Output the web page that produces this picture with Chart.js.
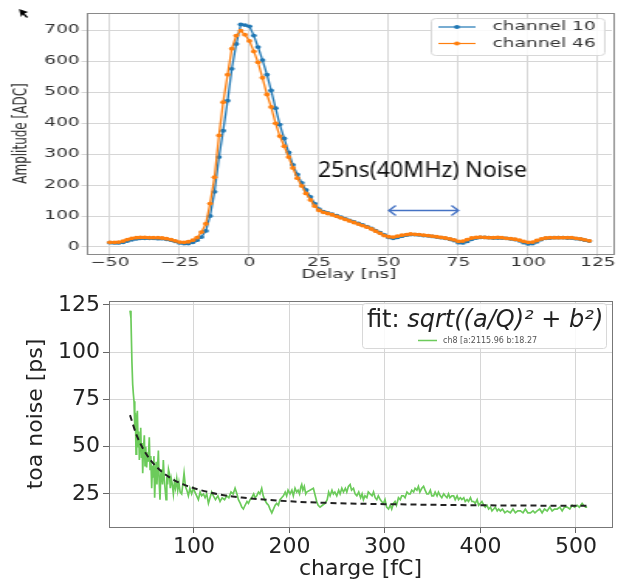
<!DOCTYPE html>
<html>
<head>
<meta charset="utf-8">
<script src="https://cdn.jsdelivr.net/npm/chart.js@4.4.1/dist/chart.umd.min.js"></script>
<style>
  html, body { margin: 0; padding: 0; background: #fff; }
  #top { position: absolute; left: 0; top: 0; width: 399px; height: 290px; transform: scaleX(1.5489); transform-origin: 0 0; }
  #bottom { position: absolute; left: 0; top: 290px; width: 618px; height: 293px; }
</style>
</head>
<body>
<div id="top"><canvas id="pulse-chart" width="399" height="290"></canvas></div>
<div id="bottom"><canvas id="noise-chart" width="618" height="293"></canvas></div>
<script>
// top panel: pulse shape
const delay = [
    -50.0, -48.4, -46.9, -45.3, -43.8, -42.2, -40.6, -39.1, -37.5, -35.9,
    -34.4, -32.8, -31.3, -29.7, -28.1, -26.6, -25.0, -23.4, -21.9, -20.3,
    -18.8, -17.2, -15.6, -14.1, -12.5, -10.9, -9.4, -7.8, -6.3, -4.7,
    -3.1, -1.6, 0.0, 1.6, 3.1, 4.7, 6.3, 7.8, 9.4, 10.9,
    12.5, 14.1, 15.6, 17.2, 18.8, 20.3, 21.9, 23.4, 25.0, 26.6,
    28.1, 29.7, 31.3, 32.8, 34.4, 35.9, 37.5, 39.1, 40.6, 42.2,
    43.8, 45.3, 46.9, 48.4, 50.0, 51.6, 53.1, 54.7, 56.3, 57.8,
    59.4, 60.9, 62.5, 64.1, 65.6, 67.2, 68.8, 70.3, 71.9, 73.4,
    75.0, 76.6, 78.1, 79.7, 81.3, 82.8, 84.4, 85.9, 87.5, 89.1,
    90.6, 92.2, 93.8, 95.3, 96.9, 98.4, 100.0, 101.6, 103.1, 104.7,
    106.3, 107.8, 109.4, 110.9, 112.5, 114.1, 115.6, 117.2, 118.8, 120.3,
    121.9
];
const ch10 = [
    14, 13, 13, 15, 19, 23, 26, 28, 28, 28,
    28, 27, 27, 25, 22, 18, 13, 11, 11, 15,
    22, 32, 52, 100, 178, 290, 375, 472, 575, 655,
    718, 716, 712, 682, 645, 603, 556, 505, 448, 395,
    350, 305, 265, 234, 207, 184, 162, 140, 122, 114,
    110, 106, 101, 96, 91, 86, 81, 76, 71, 66,
    60, 53, 46, 39, 31, 28, 31, 35, 38, 40,
    40, 39, 37, 36, 34, 32, 30, 28, 25, 21,
    14, 13, 18, 25, 29, 31, 31, 30, 29, 29,
    29, 28, 26, 24, 20, 14, 10, 11, 17, 24,
    28, 29, 30, 30, 30, 29, 29, 27, 25, 22,
    19
];
const ch46 = [
    15, 15, 16, 19, 24, 28, 30, 31, 31, 30,
    30, 30, 29, 27, 24, 20, 16, 15, 17, 22,
    30, 48, 75, 140, 225, 360, 467, 556, 640, 682,
    698, 685, 665, 631, 596, 546, 492, 452, 399, 358,
    325, 290, 255, 222, 197, 173, 152, 132, 118, 112,
    108, 104, 99, 94, 89, 84, 79, 74, 69, 64,
    58, 51, 44, 37, 33, 32, 35, 38, 40, 42,
    41, 40, 38, 37, 35, 33, 31, 29, 26, 23,
    18, 19, 24, 29, 31, 32, 31, 30, 30, 31,
    30, 28, 27, 25, 22, 18, 15, 16, 21, 26,
    29, 30, 30, 30, 30, 30, 30, 28, 26, 23,
    20
];
const delayTicks = [-50, -25, 0, 25, 50, 75, 100, 125];
const ampTicks = [0, 100, 200, 300, 400, 500, 600, 700];
const noteText = '25ns(40MHz) Noise';
const noteAt = [24.6, 226];
const arrowSpan = [50, 75, 119];

// bottom panel: toa noise vs charge
const charge = [
    33, 34, 35, 35.8, 36.5, 37.2, 38, 38.6, 39.3, 40,
    40.7, 41.5, 42.2, 42.8, 43.5, 44.2, 45, 45.7, 46.3, 47,
    48, 48.7, 49.5, 50.4, 51.2, 52, 53.2, 54, 54.8, 55.7,
    56.5, 57.3, 58, 58.8, 59.6, 60.4, 61.2, 62, 62.7, 63.5,
    64.4, 65.2, 66, 67, 67.9, 68.8, 69.7, 70.7, 71.5, 72.4,
    73.3, 74.2, 75.2, 76.2, 77.3, 78.4, 79.5, 80.6, 81.9, 83,
    84.2, 85.5, 87.1, 88.3, 89.6, 91, 92.5, 94.1, 95.7, 97.5,
    99.3, 101, 102.8, 104.6, 106.4, 108, 109.9, 111.6, 113.3, 115.1,
    116.8, 118.5, 120.3, 122.5, 125, 127.3, 129.5, 132, 134.3, 136.5,
    138.8, 141, 143, 145, 146.5, 148.5, 150, 151.7, 153.5, 155.5,
    157, 158.7, 160.5, 162.5, 164, 165.7, 167.5, 169, 170.9, 172.5,
    174, 176.2, 178, 179.6, 181.5, 183.2, 185, 186.6, 188.4, 190,
    191.8, 193.6, 195.5, 197, 198.5, 200.6, 202.5, 204, 205.8, 207.5,
    209, 210.5, 212, 212.8, 214, 215.5, 217, 218, 225, 228.5,
    230, 232, 234.5, 237.2, 239.5, 241, 242.5, 244.5, 246, 247.5,
    249.5, 251.5, 253, 254.8, 256.5, 258.5, 260, 261.7, 263.5, 265,
    267, 268.7, 270.5, 272.5, 274.5, 276, 277.4, 279, 281, 282.5,
    284.4, 286.5, 288, 289.7, 291.4, 293, 295, 296.5, 298.4, 300,
    301.7, 303.7, 305.5, 307, 308.9, 310.5, 312, 314.1, 316, 317.5,
    319.4, 321, 323, 324.8, 326.4, 328, 330, 331.5, 333.4, 335,
    336.5, 338.5, 340.4, 342, 343.8, 345.6, 347.5, 349, 350.9, 352.5,
    354.5, 356, 357.9, 359.5, 361.5, 363, 364.9, 366.5, 368, 370,
    371.9, 373.5, 375.5, 377, 378.9, 380.5, 382.5, 384, 385.9, 387.5,
    389.5, 391, 392.8, 394.5, 396.5, 398, 399.8, 401.5, 403.5, 405,
    406.8, 408.5, 410.5, 412, 413.8, 415.5, 417.5, 419, 420.8, 423,
    425.5, 428, 431.3, 434, 436.5, 439, 441.8, 444.5, 447, 449.5,
    452.3, 455, 457, 459.3, 462, 464.5, 467, 469.8, 472.5, 475,
    477.5, 480.3, 483, 485.5, 488, 490.7, 493.5, 496, 498.5, 501.2,
    503.5, 506.4, 508, 510, 511.7
];
const toaNoise = [
    122, 118, 95, 83, 78, 74, 60, 68, 46, 62,
    69, 50, 58, 43, 55, 60, 44, 52, 36, 48,
    56, 40, 50, 39, 47, 42, 55, 38, 45, 28,
    40, 34, 45, 23, 35, 42, 30, 40, 48, 32,
    22, 35, 38, 30, 43, 33, 28, 22, 34, 30,
    38, 36, 28, 33, 30, 25, 31, 28, 33, 27,
    31, 26, 25, 30, 36, 29, 27, 24, 28, 25,
    28, 26, 24, 22, 26, 24, 25, 23, 25, 20,
    23, 26, 24, 22, 24, 21, 23, 22, 24, 23,
    26, 25, 28, 25, 22, 20, 18, 17, 19, 21,
    20, 22, 23, 25, 23, 24, 26, 25, 28, 24,
    22, 20, 19, 17, 15, 17, 19, 20, 19, 22,
    23, 24, 26, 24, 27, 25, 27, 24, 28, 26,
    27, 25, 29, 30, 27, 29, 25, 26, 28, 21,
    19, 18, 19, 20, 22, 26, 24, 27, 25, 26,
    24, 27, 25, 28, 26, 28, 26, 29, 30, 27,
    28, 25, 24, 26, 23, 25, 22, 24, 23, 26,
    25, 24, 26, 23, 22, 24, 22, 21, 20, 22,
    18, 17, 19, 17, 20, 21, 19, 23, 22, 24,
    24, 23, 26, 25, 25, 27, 26, 28, 27, 29,
    26, 28, 29, 27, 25, 25, 27, 24, 24, 26,
    24, 26, 24, 23, 25, 24, 23, 25, 23, 24,
    24, 22, 24, 22, 23, 22, 23, 21, 22, 21,
    23, 21, 21, 20, 22, 19, 20, 21, 19, 18,
    19, 17, 18, 16, 17, 18, 16, 17, 16, 17,
    15, 16, 15, 17, 15, 16, 16, 15, 17, 15,
    15, 16, 15, 16, 17, 15, 17, 16, 18, 16,
    17, 17, 18, 16, 18, 18, 17, 19, 18, 19,
    18, 20, 19, 18, 18
];
const fitCharge = [33, 40, 50, 60, 70, 80, 90, 100, 125, 150, 200, 250, 300, 400, 512];
const fitNoise = [66.7, 56.0, 46.1, 39.7, 35.3, 32.1, 29.8, 28.0, 24.9, 23.1, 21.1, 20.1, 19.6, 19.0, 18.7];
const chargeTicks = [100, 200, 300, 400, 500];
const noiseTicks = [25, 50, 75, 100, 125];
const fitTitle = ['fit: ', 'sqrt((a/Q)\u00b2 + b\u00b2)'];
const fitLabel = 'ch8 [a:2115.96 b:18.27';

const STRETCH = 618 / 399; // the top picture is stretched sideways
const GRID = '#d6d6d6';

const xy = (xs, ys) => xs.map((x, i) => ({ x, y: ys[i] }));
const minus = v => String(v).replace('-', '\u2212');

function frame(color) {
    return {
        id: 'frame',
        afterDatasetsDraw(chart) {
            const { ctx, chartArea: a } = chart;
            ctx.save();
            ctx.strokeStyle = color;
            ctx.lineWidth = 1;
            ctx.strokeRect(Math.round(a.left) + 0.5, Math.round(a.top) + 0.5,
                Math.round(a.right - a.left), Math.round(a.bottom - a.top));
            ctx.restore();
        }
    };
}

function roundBox(ctx, x, y, w, h, r) {
    ctx.beginPath();
    ctx.moveTo(x + r, y);
    ctx.arcTo(x + w, y, x + w, y + h, r);
    ctx.arcTo(x + w, y + h, x, y + h, r);
    ctx.arcTo(x, y + h, x, y, r);
    ctx.arcTo(x, y, x + w, y, r);
    ctx.closePath();
}

// legend, text and arrow for the pulse panel
const pulseExtras = {
    id: 'pulseExtras',
    afterDraw(chart) {
        const { ctx, scales: { x, y } } = chart;
        ctx.save();

        // legend box
        roundBox(ctx, 278.5, 18.5, 112, 37, 3);
        ctx.fillStyle = 'rgba(255,255,255,0.85)';
        ctx.fill();
        ctx.strokeStyle = '#d8d8d8';
        ctx.lineWidth = 1;
        ctx.stroke();
        [0, 1].forEach(i => {
            const ds = chart.data.datasets[i];
            const ly = 27 + i * 16.5;
            ctx.strokeStyle = ds.borderColor;
            ctx.lineWidth = 1.2;
            ctx.beginPath();
            ctx.moveTo(283, ly);
            ctx.lineTo(307, ly);
            ctx.stroke();
            ctx.fillStyle = ds.borderColor;
            ctx.beginPath();
            ctx.arc(295, ly, 1.9, 0, Math.PI * 2);
            ctx.fill();
            ctx.fillStyle = '#333';
            ctx.font = '12px "DejaVu Sans"';
            ctx.textBaseline = 'middle';
            ctx.fillText(ds.label, 318, ly);
        });

        // double arrow
        const x0 = x.getPixelForValue(arrowSpan[0]);
        const x1 = x.getPixelForValue(arrowSpan[1]);
        const ya = Math.round(y.getPixelForValue(arrowSpan[2])) + 0.5;
        const hx = 7 / STRETCH;
        ctx.strokeStyle = '#4472c4';
        ctx.lineWidth = 1.3;
        ctx.beginPath();
        ctx.moveTo(x0, ya); ctx.lineTo(x1, ya);
        ctx.moveTo(x0 + hx, ya - 5); ctx.lineTo(x0, ya); ctx.lineTo(x0 + hx, ya + 5);
        ctx.moveTo(x1 - hx, ya - 5); ctx.lineTo(x1, ya); ctx.lineTo(x1 - hx, ya + 5);
        ctx.stroke();

        // note text (not stretched in the picture)
        ctx.font = '21px "Noto Sans"';
        ctx.textBaseline = 'alphabetic';
        ctx.fillStyle = '#111';
        const w = ctx.measureText(noteText).width;
        ctx.translate(x.getPixelForValue(noteAt[0]), y.getPixelForValue(noteAt[1]));
        ctx.scale(209 / STRETCH / w, 1);
        ctx.fillText(noteText, 0, 0);
        ctx.restore();

        // little mouse cursor left in the screenshot
        ctx.save();
        ctx.scale(1 / STRETCH, 1);
        ctx.fillStyle = '#000';
        ctx.beginPath();
        ctx.moveTo(19, 9);
        ctx.lineTo(28, 12);
        ctx.lineTo(24.5, 13.5);
        ctx.lineTo(28, 17);
        ctx.lineTo(26.5, 18);
        ctx.lineTo(23, 14.5);
        ctx.lineTo(21, 17);
        ctx.closePath();
        ctx.fill();
        ctx.restore();
    }
};

// legend for the noise panel
const noiseLegend = {
    id: 'noiseLegend',
    afterDraw(chart) {
        const ctx = chart.ctx;
        ctx.save();
        roundBox(ctx, 362.5, 13.5, 244, 45, 3);
        ctx.fillStyle = 'rgba(255,255,255,0.85)';
        ctx.fill();
        ctx.strokeStyle = '#d8d8d8';
        ctx.lineWidth = 1;
        ctx.stroke();

        ctx.fillStyle = '#222';
        ctx.textBaseline = 'alphabetic';
        ctx.font = '24px "DejaVu Sans"';
        ctx.fillText(fitTitle[0], 367, 37);
        const w0 = ctx.measureText(fitTitle[0]).width;
        ctx.font = 'italic 24px "DejaVu Sans"';
        ctx.fillText(fitTitle[1], 367 + w0, 37);

        ctx.strokeStyle = chart.data.datasets[0].borderColor;
        ctx.lineWidth = 1.5;
        ctx.beginPath();
        ctx.moveTo(418, 50.5);
        ctx.lineTo(437, 50.5);
        ctx.stroke();
        ctx.fillStyle = '#555';
        ctx.font = '8px "DejaVu Sans"';
        ctx.textBaseline = 'middle';
        ctx.fillText(fitLabel, 443, 50.5);
        ctx.restore();
    }
};

const smallFont = { family: 'DejaVu Sans', size: 12 };
const bigFont = { family: 'DejaVu Sans', size: 22 };

new Chart(document.getElementById('pulse-chart'), {
    type: 'line',
    data: {
        datasets: [{
            label: 'channel 10',
            data: xy(delay, ch10),
            borderColor: '#1f77b4',
            backgroundColor: '#1f77b4',
            borderWidth: 1.3,
            pointRadius: 1.9,
            pointBorderWidth: 0,
            order: 1
        }, {
            label: 'channel 46',
            data: xy(delay, ch46),
            borderColor: '#ff7f0e',
            backgroundColor: '#ff7f0e',
            borderWidth: 1.3,
            pointRadius: 1.9,
            pointBorderWidth: 0,
            order: 0
        }]
    },
    options: {
        responsive: false,
        animation: false,
        layout: { padding: { left: 0, right: 2.6, top: 13, bottom: 0 } },
        plugins: { legend: { display: false }, tooltip: { enabled: false } },
        scales: {
            x: {
                type: 'linear',
                min: -58.6,
                max: 130,
                afterBuildTicks: s => { s.ticks = delayTicks.map(value => ({ value })); },
                afterFit: s => { s.height = 36; s.paddingLeft = 0; s.paddingRight = 0; },
                border: { display: false },
                grid: { color: GRID, tickColor: GRID, tickLength: 2 },
                ticks: { color: '#333', font: smallFont, padding: 0, autoSkip: false, maxRotation: 0, callback: minus },
                title: { display: true, text: 'Delay [ns]', color: '#333', font: smallFont, padding: { top: 0, bottom: 8 } }
            },
            y: {
                type: 'linear',
                min: -22.6,
                max: 755,
                afterBuildTicks: s => { s.ticks = ampTicks.map(value => ({ value })); },
                afterFit: s => { s.width = 55.5; s.paddingTop = 0; s.paddingBottom = 0; },
                border: { display: false },
                grid: { color: GRID, tickColor: GRID, tickLength: 3 },
                ticks: { color: '#333', font: smallFont, padding: 1, autoSkip: false },
                title: { display: true, text: 'Amplitude [ADC]', color: '#333', font: { family: 'DejaVu Sans', size: 12 }, padding: { top: 7, bottom: 0 } }
            }
        }
    },
    plugins: [frame('#8a8a8a'), pulseExtras]
});

new Chart(document.getElementById('noise-chart'), {
    type: 'line',
    data: {
        datasets: [{
            label: 'ch8',
            data: xy(charge, toaNoise),
            borderColor: '#6ccb5b',
            borderWidth: 1.7,
            pointRadius: 0,
            order: 1
        }, {
            label: 'fit',
            data: xy(fitCharge, fitNoise),
            borderColor: '#222',
            borderWidth: 2,
            borderDash: [6, 4],
            pointRadius: 0,
            cubicInterpolationMode: 'monotone',
            order: 0
        }]
    },
    options: {
        responsive: false,
        animation: false,
        layout: { padding: { left: 0, right: 6, top: 11, bottom: 0 } },
        plugins: { legend: { display: false }, tooltip: { enabled: false } },
        scales: {
            x: {
                type: 'linear',
                min: 11,
                max: 537.7,
                afterBuildTicks: s => { s.ticks = chargeTicks.map(value => ({ value })); },
                afterFit: s => { s.height = 56; s.paddingLeft = 0; s.paddingRight = 0; },
                border: { display: false },
                grid: { color: GRID, tickColor: '#666', tickLength: 6 },
                ticks: { color: '#222', font: bigFont, padding: 1, autoSkip: false, maxRotation: 0 },
                title: { display: true, text: 'charge [fC]', color: '#222', font: bigFont, padding: { top: 0, bottom: 1 } }
            },
            y: {
                type: 'linear',
                min: 7.5,
                max: 127.1,
                afterBuildTicks: s => { s.ticks = noiseTicks.map(value => ({ value })); },
                afterFit: s => { s.width = 109; s.paddingTop = 0; s.paddingBottom = 0; },
                border: { display: false },
                grid: { color: GRID, tickColor: '#666', tickLength: 6 },
                ticks: { color: '#222', font: bigFont, padding: 3, autoSkip: false },
                title: { display: true, text: 'toa noise [ps]', color: '#222', font: bigFont, padding: { top: 23, bottom: 0 } }
            }
        }
    },
    plugins: [frame('#777'), noiseLegend]
});
</script>
</body>
</html>
